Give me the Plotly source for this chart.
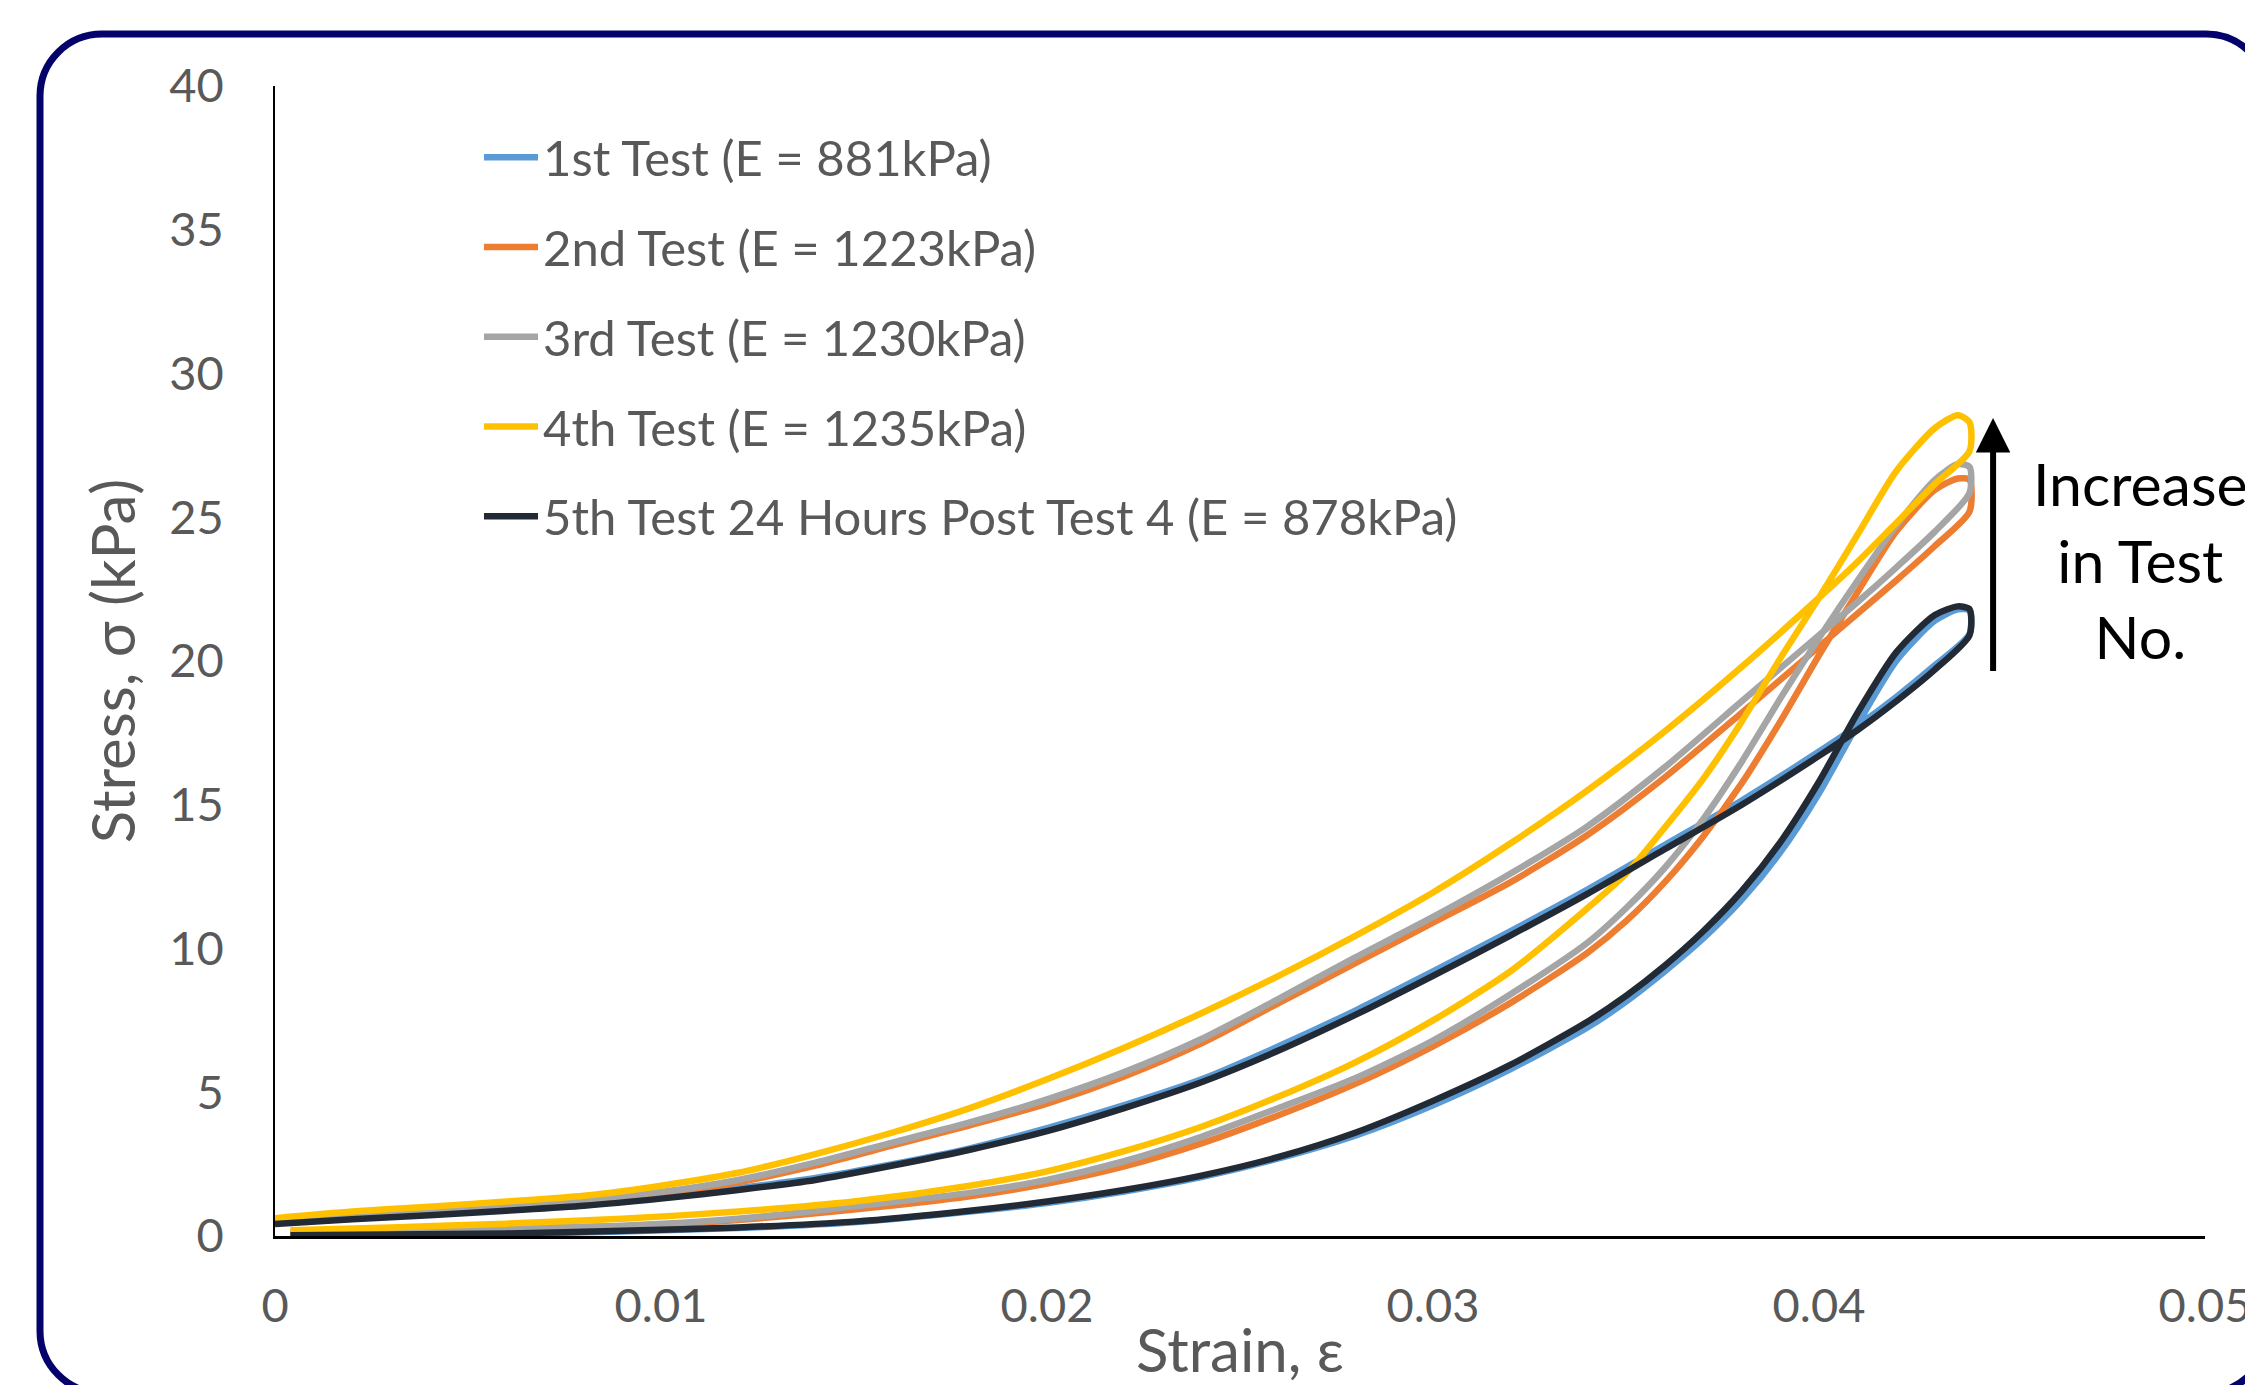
import plotly.graph_objects as go

# ---------------- data ----------------
load_strain = [0.0004, 0.003, 0.006, 0.009, 0.012, 0.015, 0.018, 0.020, 0.022, 0.024,
               0.026, 0.028, 0.030, 0.032, 0.034, 0.035, 0.036, 0.037, 0.038, 0.039,
               0.040, 0.041, 0.042, 0.043, 0.0436, 0.0439]
unload_strain = [0.0, 0.002, 0.004, 0.006, 0.008, 0.010, 0.012, 0.014, 0.016, 0.018,
                 0.020, 0.022, 0.024, 0.026, 0.028, 0.030, 0.032, 0.034, 0.036, 0.038,
                 0.040, 0.041, 0.042, 0.043, 0.0439]

t1_load = [0.02, 0.04, 0.08, 0.16, 0.28, 0.48, 0.85, 1.15, 1.55, 2.05, 2.7, 3.5, 4.55, 5.8,
           7.25, 8.15, 9.2, 10.35, 11.7, 13.35, 15.4, 17.8, 20.0, 21.4, 21.8, 21.75]
t1_unload = [0.45, 0.6, 0.75, 0.92, 1.1, 1.35, 1.66, 2.02, 2.5, 3.05, 3.75, 4.55, 5.45, 6.6,
             7.85, 9.2, 10.6, 12.05, 13.6, 15.15, 16.85, 17.75, 18.75, 19.85, 20.95]

t2_load = [0.1, 0.17, 0.25, 0.34, 0.56, 0.92, 1.38, 1.82, 2.42, 3.22, 4.2, 5.3, 6.6, 8.1,
           9.85, 10.95, 12.3, 13.9, 15.75, 17.9, 20.2, 22.4, 24.5, 25.95, 26.35, 26.3]
t2_unload = [0.48, 0.68, 0.87, 1.03, 1.22, 1.47, 1.87, 2.45, 3.15, 3.85, 4.6, 5.55, 6.7, 8.1,
             9.5, 10.9, 12.3, 13.95, 15.95, 18.2, 20.5, 21.65, 22.8, 24.0, 25.2]

t3_load = [0.12, 0.2, 0.28, 0.36, 0.6, 1.03, 1.5, 1.95, 2.6, 3.45, 4.45, 5.5, 6.8, 8.4,
           10.2, 11.4, 12.8, 14.5, 16.5, 18.7, 20.8, 22.8, 24.7, 26.3, 26.85, 26.75]
t3_unload = [0.5, 0.7, 0.9, 1.07, 1.27, 1.53, 1.95, 2.55, 3.25, 3.95, 4.75, 5.7, 6.85, 8.25,
             9.7, 11.1, 12.6, 14.25, 16.3, 18.6, 20.9, 22.05, 23.25, 24.5, 25.85]

t4_load = [0.2, 0.3, 0.43, 0.6, 0.85, 1.2, 1.75, 2.25, 2.95, 3.8, 4.85, 6.05, 7.5, 9.2,
           11.4, 12.6, 14.2, 15.9, 17.9, 20.1, 22.2, 24.4, 26.6, 28.1, 28.55, 28.3]
t4_unload = [0.62, 0.85, 1.02, 1.2, 1.4, 1.75, 2.2, 2.85, 3.6, 4.45, 5.45, 6.55, 7.75, 9.05,
             10.45, 11.95, 13.65, 15.5, 17.55, 19.8, 22.2, 23.45, 24.8, 26.15, 27.3]

t5_load = [0.03, 0.05, 0.09, 0.18, 0.30, 0.50, 0.88, 1.2, 1.6, 2.1, 2.75, 3.6, 4.7, 5.95,
           7.45, 8.35, 9.4, 10.6, 12.0, 13.7, 15.8, 18.2, 20.3, 21.6, 21.9, 21.8]
t5_unload = [0.42, 0.58, 0.72, 0.88, 1.05, 1.3, 1.6, 1.95, 2.45, 3.0, 3.65, 4.45, 5.35, 6.45,
             7.7, 9.05, 10.45, 11.9, 13.45, 15.0, 16.7, 17.6, 18.6, 19.7, 20.9]

series_names = ["1st Test (E = 881kPa)", "2nd Test (E = 1223kPa)", "3rd Test (E = 1230kPa)",
                "4th Test (E = 1235kPa)", "5th Test 24 Hours Post Test 4 (E = 878kPa)"]
series_load = [t1_load, t2_load, t3_load, t4_load, t5_load]
series_unload = [t1_unload, t2_unload, t3_unload, t4_unload, t5_unload]
series_colors = ["#5B9BD5", "#ED7D31", "#A5A5A5", "#FFC000", "#222A35"]

x_ticks = [0, 0.01, 0.02, 0.03, 0.04, 0.05]
x_tick_labels = ["0", "0.01", "0.02", "0.03", "0.04", "0.05"]
y_ticks = [0, 5, 10, 15, 20, 25, 30, 35, 40]

# ---------------- layout geometry (pixels) ----------------
W, H = 2245, 1385
ML, MT, PW, PH = 275, 86, 1930, 1150
FONT = "Lato, 'Open Sans', sans-serif"
GREY = "#595959"


def px(X):
    return (X - ML) / PW


def py(Y):
    return (MT + PH - Y) / PH


fig = go.Figure()
for name, ld, ul, col in zip(series_names, series_load, series_unload, series_colors):
    xs = load_strain + unload_strain[::-1]
    ys = ld + ul[::-1]
    fig.add_trace(go.Scatter(
        x=xs, y=ys, mode="lines", name=name, legendgroup=name,
        line=dict(color=col, width=6.5, shape="spline", smoothing=0.7),
    ))

# rounded frame
L_, T_, R_, B_, r = 40, 34, 2268, 1393, 62
k = 0.5523 * r
pts = [
    ("M", [(L_ + r, T_)]),
    ("L", [(R_ - r, T_)]),
    ("C", [(R_ - r + k, T_), (R_, T_ + r - k), (R_, T_ + r)]),
    ("L", [(R_, B_ - r)]),
    ("C", [(R_, B_ - r + k), (R_ - r + k, B_), (R_ - r, B_)]),
    ("L", [(L_ + r, B_)]),
    ("C", [(L_ + r - k, B_), (L_, B_ - r + k), (L_, B_ - r)]),
    ("L", [(L_, T_ + r)]),
    ("C", [(L_, T_ + r - k), (L_ + r - k, T_), (L_ + r, T_)]),
]
path = ""
for cmd, ps in pts:
    path += cmd + " ".join(f"{px(a):.5f},{py(b):.5f}" for a, b in ps) + " "
path += "Z"
fig.add_shape(type="path", path=path, xref="paper", yref="paper",
              line=dict(color="#03036B", width=7), fillcolor="rgba(0,0,0,0)", layer="below")

# arrow + text
fig.add_annotation(x=0.04451, y=28.45, ax=0.04451, ay=19.6, xref="x", yref="y",
                   axref="x", ayref="y", text="", showarrow=True, arrowhead=2,
                   arrowwidth=6, arrowsize=1.15, arrowcolor="black")
fig.add_annotation(x=0.04832, y=23.5, xref="x", yref="y", showarrow=False,
                   text="Increase<br>in Test<br>No.", align="center",
                   xanchor="center", yanchor="middle",
                   font=dict(family=FONT, size=59, color="black"))

fig.update_layout(
    width=W, height=H,
    margin=dict(l=ML, r=W - ML - PW, t=MT, b=H - MT - PH, pad=0, autoexpand=False),
    paper_bgcolor="white", plot_bgcolor="white",
    font=dict(family=FONT, color=GREY, size=48),
    showlegend=True,
    legend=dict(x=px(479), y=py(119), xanchor="left", yanchor="top",
                bgcolor="rgba(0,0,0,0)", font=dict(size=49, color=GREY),
                tracegroupgap=23, itemwidth=54),
    xaxis=dict(range=[0, 0.05], tickvals=x_ticks, ticktext=x_tick_labels,
               showgrid=False, zeroline=False, showline=True, linecolor="black",
               linewidth=2.5, ticks="outside", ticklen=27, tickcolor="rgba(0,0,0,0)",
               tickfont=dict(size=47, color=GREY), automargin=False,
               ticklabeloverflow="allow",
               title=dict(text="Strain, ε", font=dict(size=60, color=GREY), standoff=0)),
    yaxis=dict(range=[0, 40], tickvals=y_ticks,
               showgrid=False, zeroline=False, showline=True, linecolor="black",
               linewidth=1.5, ticks="outside", ticklen=40, tickcolor="rgba(0,0,0,0)",
               tickfont=dict(size=47, color=GREY), automargin=False,
               ticklabeloverflow="allow",
               title=dict(text="Stress, σ (kPa)", font=dict(size=60, color=GREY), standoff=14)),
)

fig.write_html("out.html", config={"displayModeBar": False},
               post_script="document.body.style.margin='0';document.body.style.overflow='hidden';")
